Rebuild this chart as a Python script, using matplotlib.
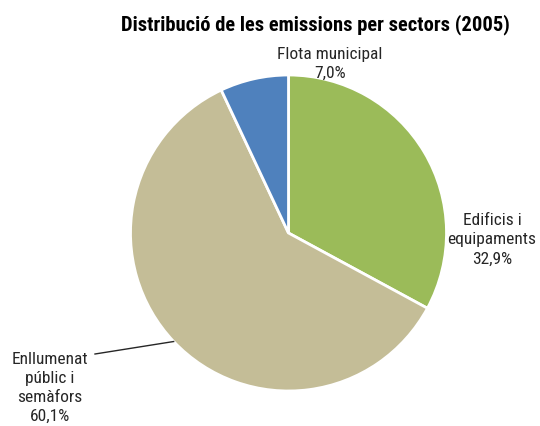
import matplotlib
matplotlib.use("Agg")
import matplotlib.pyplot as plt
import numpy as np

sectors = ["Edificis i\nequipaments", "Enllumenat\npúblic i\nsemàfors", "Flota municipal"]
shares = [32.9, 60.1, 7.0]
colors = ["#9BBB59", "#C4BD97", "#4F81BD"]
title = "Distribució de les emissions per sectors (2005)"

plt.rcParams["font.family"] = ["Roboto Condensed", "DejaVu Sans"]
text_color = "#262626"

W, H = 540, 427
fig = plt.figure(figsize=(W / 100, H / 100), dpi=100)
ax = fig.add_axes([0, 0, 1, 1])

cx, cy, r = 288.5, H - 234, 158
wedges, _ = ax.pie(shares, colors=colors, startangle=90, counterclock=False,
                   center=(cx, cy), radius=r, frame=True,
                   wedgeprops=dict(edgecolor="white", linewidth=2))
ax.set_xlim(0, W)
ax.set_ylim(0, H)
ax.set_aspect("equal")
ax.axis("off")


def pct(v):
    return f"{v:.1f}%".replace(".", ",")


ax.text(315, H - 30, title, ha="center", va="baseline",
        fontsize=14.8, fontweight="bold", color="black")

label_kw = dict(ha="center", va="center", fontsize=12.5, linespacing=1.35,
                color=text_color)
# Edificis i equipaments
ax.text(492, H - 240, f"{sectors[0]}\n{pct(shares[0])}", **label_kw)
# Flota municipal
ax.text(330, H - 64, f"{sectors[2]}\n{pct(shares[2])}", **label_kw)
# Enllumenat públic i semàfors, with leader line to the middle of its wedge
ax.text(50, H - 388, f"{sectors[1]}\n{pct(shares[1])}", **label_kw)
mid = 90 - 360 * (shares[0] + shares[1] / 2) / 100
ang = np.deg2rad(mid)
ex, ey = cx + r * np.cos(ang), cy + r * np.sin(ang)
ax.plot([95, ex], [H - 355, ey], color=text_color, linewidth=1)

fig.savefig("out.png", dpi=100)
